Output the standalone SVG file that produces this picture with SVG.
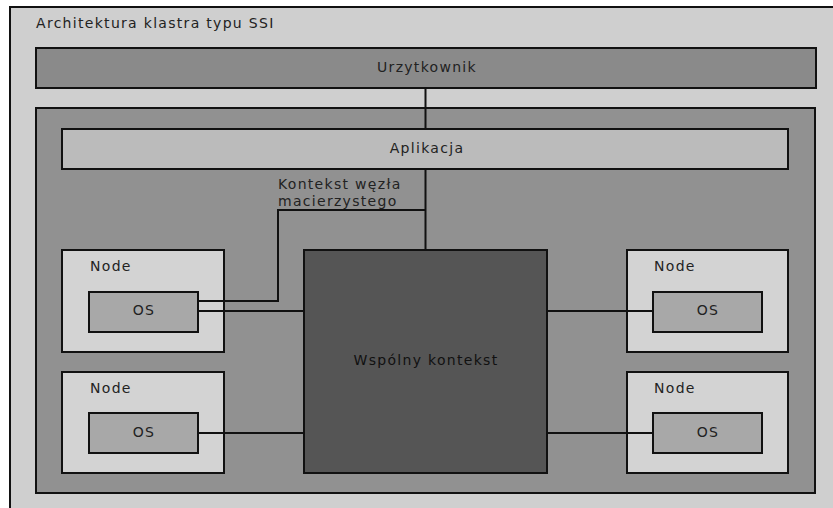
<svg xmlns="http://www.w3.org/2000/svg" width="833" height="508" viewBox="0 0 833 508">
<style>
.box{stroke:#111;stroke-width:2}
.t{font-family:"DejaVu Sans",Verdana,sans-serif;font-size:14px;letter-spacing:1.3px;fill:#222;dominant-baseline:central}
.c{text-anchor:middle}
.ln{fill:none;stroke:#111;stroke-width:2}
</style>
<rect x="0" y="0" width="833" height="508" fill="#fff"/>
<g id="frame">
<rect class="box" x="10" y="7" width="840" height="520" fill="#cfcfcf"/>
<text class="t" x="36" y="23">Architektura klastra typu SSI</text>
</g>
<g id="user">
<rect class="box" x="36" y="48" width="780" height="40" fill="#8a8a8a"/>
<text class="t c" x="427" y="67">Urzytkownik</text>
</g>
<g id="cluster">
<rect class="box" x="36" y="108" width="779" height="385" fill="#919191"/>
</g>
<g id="app">
<rect class="box" x="62" y="129" width="726" height="40" fill="#bbbbbb"/>
<text class="t c" x="427" y="148">Aplikacja</text>
</g>
<g id="shared">
<rect class="box" x="304" y="250" width="243" height="223" fill="#555555"/>
<text class="t c" x="426" y="360" style="fill:#111">Wspólny kontekst</text>
</g>
<g id="node1">
<rect class="box" x="62" y="250" width="162" height="102" fill="#d3d3d3"/>
<text class="t" x="90" y="266">Node</text>
<rect class="box" x="89" y="292" width="109" height="40" fill="#a8a8a8"/>
<text class="t c" x="144" y="310">OS</text>
</g>
<g id="node2">
<rect class="box" x="62" y="372" width="162" height="101" fill="#d3d3d3"/>
<text class="t" x="90" y="388">Node</text>
<rect class="box" x="89" y="413" width="109" height="40" fill="#a8a8a8"/>
<text class="t c" x="144" y="432">OS</text>
</g>
<g id="node3">
<rect class="box" x="627" y="250" width="161" height="102" fill="#d3d3d3"/>
<text class="t" x="654" y="266">Node</text>
<rect class="box" x="653" y="292" width="109" height="40" fill="#a8a8a8"/>
<text class="t c" x="708" y="310">OS</text>
</g>
<g id="node4">
<rect class="box" x="627" y="372" width="161" height="101" fill="#d3d3d3"/>
<text class="t" x="654" y="388">Node</text>
<rect class="box" x="653" y="413" width="109" height="40" fill="#a8a8a8"/>
<text class="t c" x="708" y="432">OS</text>
</g>
<g id="connectors">
<path class="ln" d="M425.5 88V129M425.5 169V250"/>
<path class="ln" d="M425.5 210H278V301H198"/>
<path class="ln" d="M198 311H304M198 433H304M547 311H653M547 433H653"/>
<text class="t" x="278" y="184">Kontekst węzła</text>
<text class="t" x="278" y="201">macierzystego</text>
</g>
</svg>
